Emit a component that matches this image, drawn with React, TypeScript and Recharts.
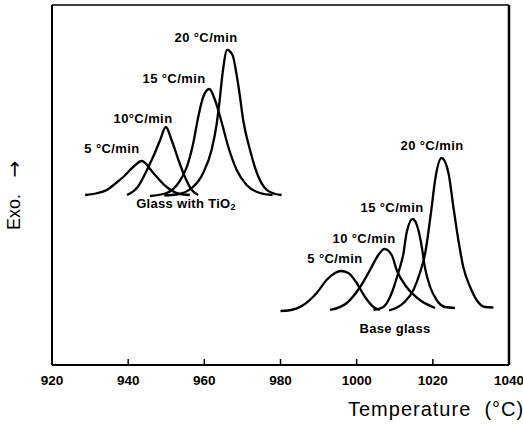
import { LineChart, Line, XAxis, YAxis, ReferenceLine } from "recharts";

// [temperature °C, signal] (signal in arbitrary units, 0-360)
const tio2_5: [number, number][] = [
  [928.7, 170], [931.5, 171.5], [934.4, 175], [936.5, 181], [938.7, 188], [941.3, 198],
  [943.6, 204], [946.6, 192], [950.1, 178], [953.6, 171], [956.2, 170],
];
const tio2_10: [number, number][] = [
  [939.7, 170], [942.5, 178], [945.3, 198], [947, 212], [948.4, 225], [949.9, 238],
  [951.4, 225], [953.2, 205], [954.9, 188], [956.7, 175], [958.4, 170],
];
const tio2_15: [number, number][] = [
  [945.7, 169], [950.1, 172], [953.2, 182], [955.4, 198], [957.1, 222], [958.4, 248],
  [959.7, 268], [961.3, 276], [962.8, 265], [964.6, 242], [966.3, 218], [968.5, 195],
  [971.1, 180], [974.6, 172], [977.9, 170],
];
const tio2_20: [number, number][] = [
  [949.5, 169.5], [952.7, 170.5], [956.7, 177], [959.7, 192], [961.9, 215], [963.2, 240],
  [964, 264], [964.8, 292], [966, 315], [967.4, 310], [968.4, 292], [969.3, 270], [970.2, 245],
  [972, 215], [973.8, 192], [975.9, 177], [978.6, 171], [980.3, 170],
];
const base_5: [number, number][] = [
  [980, 54], [982, 54.5], [986, 60], [989.5, 72], [992.1, 85], [994.3, 92], [995.8, 94],
  [997.8, 92], [1000, 82], [1002.2, 68], [1004.4, 58], [1006.1, 55],
];
const base_10: [number, number][] = [
  [993, 55], [997.4, 62], [1000.9, 78], [1003.5, 95], [1005.7, 110], [1007.3, 116],
  [1009.2, 110], [1010.5, 95], [1013.1, 78], [1016.6, 65], [1020.6, 57],
];
const base_15: [number, number][] = [
  [1004.4, 55], [1007, 58], [1009.2, 72], [1010.9, 92], [1012.3, 112], [1013.1, 132],
  [1014.7, 146], [1016.2, 135], [1017.1, 118], [1017.9, 98], [1019.3, 78], [1021, 65],
  [1023.2, 58], [1025.8, 57],
];
const base_20: [number, number][] = [
  [1008.5, 54.5], [1012.3, 62], [1014.9, 75], [1016.6, 92], [1018, 112], [1018.8, 132],
  [1019.7, 158], [1020.6, 185], [1022.3, 207], [1024.1, 192], [1025.4, 158], [1026.7, 125],
  [1028, 98], [1029.8, 78], [1031.5, 65], [1033.7, 58], [1035.9, 57.5],
];

const curves = [tio2_5, tio2_10, tio2_15, tio2_20, base_5, base_10, base_15, base_20];

const xTicks = [920, 940, 960, 980, 1000, 1020, 1040];
const innerTicks = [940, 960, 980, 1000, 1020];

const labels = [
  { text: "20 °C/min", x: 206, y: 37 },
  { text: "15 °C/min", x: 174, y: 78 },
  { text: "10°C/min", x: 143, y: 118 },
  { text: "5 °C/min", x: 112, y: 148 },
  { text: "20 °C/min", x: 432, y: 145 },
  { text: "15 °C/min", x: 392, y: 207 },
  { text: "10 °C/min", x: 364, y: 238 },
  { text: "5 °C/min", x: 335, y: 258 },
];

const W = 523;
const H = 425;
const FONT = "'Liberation Sans', Arial, sans-serif";

export default function App() {
  return (
    <div style={{ position: "fixed", left: 0, top: 0, width: W, height: H, background: "#fff" }}>
      <LineChart width={W} height={H} margin={{ top: 5, right: 14, bottom: 30, left: 52 }}>
        <XAxis
          type="number"
          dataKey="t"
          domain={[920, 1040]}
          ticks={xTicks}
          allowDataOverflow
          height={30}
          tickSize={0}
          tickMargin={10}
          tickLine={false}
          tick={{ fill: "#000", fontSize: 13.5, fontWeight: "bold", fontFamily: FONT }}
          axisLine={{ stroke: "#000", strokeWidth: 2 }}
        />
        <YAxis type="number" dataKey="v" domain={[0, 360]} hide />
        {/* frame */}
        <ReferenceLine x={920} stroke="#000" strokeWidth={2} />
        <ReferenceLine x={1040} stroke="#000" strokeWidth={2.5} />
        <ReferenceLine y={360} stroke="#000" strokeWidth={1.5} />
        {innerTicks.map((t) => (
          <ReferenceLine key={t} segment={[{ x: t, y: 0 }, { x: t, y: 6 }]} stroke="#000" strokeWidth={1.5} />
        ))}
        {curves.map((c, i) => (
          <Line
            key={i}
            data={c.map(([t, v]) => ({ t, v }))}
            dataKey="v"
            type="monotone"
            stroke="#000"
            strokeWidth={2.3}
            dot={false}
            isAnimationActive={false}
          />
        ))}
      </LineChart>
      <svg width={W} height={H} style={{ position: "absolute", left: 0, top: 0, pointerEvents: "none" }}
        fontFamily={FONT}>
        {labels.map((l, i) => (
          <text key={i} x={l.x} y={l.y} textAnchor="middle" dominantBaseline="central"
            fontSize={13} letterSpacing={0.4} fontWeight="bold" fill="#000">
            {l.text}
          </text>
        ))}
        <text x={186} y={203} textAnchor="middle" dominantBaseline="central" fontSize={13}
          letterSpacing={0.3} fontWeight="bold" fill="#000">
          Glass with TiO<tspan fontSize={9} dy={4}>2</tspan>
        </text>
        <text x={395} y={328} textAnchor="middle" dominantBaseline="central" fontSize={13}
          letterSpacing={0.3} fontWeight="bold" fill="#000">
          Base glass
        </text>
        <text x={348} y={416} fontSize={20} letterSpacing={1} fill="#000" style={{ whiteSpace: "pre" }}>
          {"Temperature  (°C)"}
        </text>
        <text x={14} y={212} transform="rotate(-90 14 212)" textAnchor="middle"
          dominantBaseline="central" fontSize={18} fill="#000">
          Exo.
        </text>
        <text x={14} y={169} transform="rotate(-90 14 169)" textAnchor="middle"
          dominantBaseline="central" fontSize={20} fontFamily="'DejaVu Sans', sans-serif" fill="#000">
          →
        </text>
      </svg>
    </div>
  );
}
